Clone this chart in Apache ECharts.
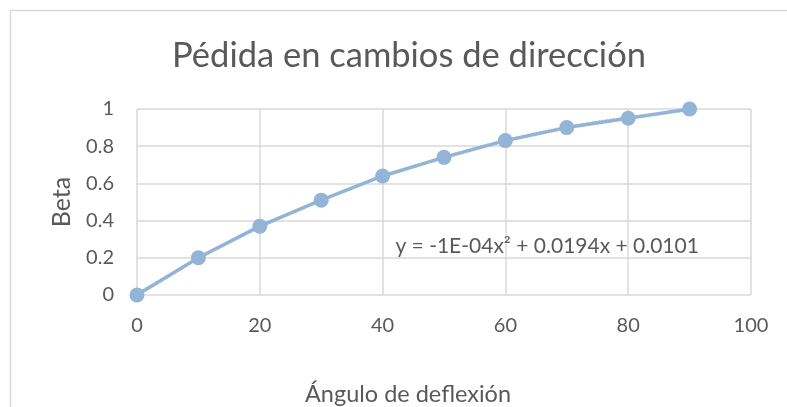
<!DOCTYPE html>
<html>
<head>
<meta charset="utf-8">
<script src="https://cdn.jsdelivr.net/npm/echarts@6/dist/echarts.min.js"></script>
<style>
  html, body { margin: 0; padding: 0; background: #ffffff; }
  #chart { width: 787px; height: 407px; }
</style>
</head>
<body>
<div id="chart"></div>
<script>
// Deflection angle (degrees) and the measured loss coefficient beta
const angles = [0, 10, 20, 30, 40, 50, 60, 70, 80, 90];
const beta = [0, 0.2, 0.37, 0.51, 0.64, 0.74, 0.83, 0.90, 0.95, 1.0];

// Second-order polynomial trendline [a2, a1, a0]; shown rounded in the equation label
const trendCoef = [-9.507e-5, 0.019441, 0.010097];
const trendLabel = 'y = -1E-04x² + 0.0194x + 0.0101';

const xTicks = [0, 20, 40, 60, 80, 100];
const yTicks = [0, 0.2, 0.4, 0.6, 0.8, 1];

const lineColor = '#93b4d6';
const textColor = '#595959';
const font = 'Lato';

// Trendline sampled over the data range
const trend = [];
for (let x = angles[0]; x <= angles[angles.length - 1]; x += 1) {
  trend.push([x, trendCoef[0] * x * x + trendCoef[1] * x + trendCoef[2]]);
}

const chart = echarts.init(document.getElementById('chart'), null, { renderer: 'canvas' });
chart.setOption({
  animation: false,
  backgroundColor: '#ffffff',
  title: [
    {
      text: 'Pédida en cambios de dirección',
      left: 404, top: 33, textAlign: 'center',
      textStyle: { fontFamily: font, fontWeight: 'normal', fontSize: 34.5, color: textColor }
    },
    {
      text: 'Ángulo de deflexión',
      left: 403, top: 377, textAlign: 'center',
      textStyle: { fontFamily: font, fontWeight: 'normal', fontSize: 23.5, color: textColor }
    }
  ],
  graphic: [
    {
      type: 'rect', silent: true, z: -1,
      shape: { x: 10.5, y: 10.5, width: 900, height: 500 },
      style: { fill: 'none', stroke: '#d9d9d9', lineWidth: 1.5 }
    }
  ],
  grid: { left: 137, right: 36, top: 109, bottom: 112 },
  xAxis: {
    type: 'value', min: xTicks[0], max: xTicks[xTicks.length - 1], interval: 20,
    axisLine: { show: false }, axisTick: { show: false },
    splitLine: { show: true, lineStyle: { color: '#d9d9d9', width: 1.5 } },
    axisLabel: { fontFamily: font, fontSize: 20, color: textColor, margin: 21 }
  },
  yAxis: {
    type: 'value', min: yTicks[0], max: yTicks[yTicks.length - 1], interval: 0.2,
    name: 'Beta', nameLocation: 'middle', nameGap: 63,
    nameTextStyle: { fontFamily: font, fontSize: 25, color: textColor },
    axisLine: { show: false }, axisTick: { show: false },
    splitLine: { show: true, lineStyle: { color: '#d9d9d9', width: 1.5 } },
    axisLabel: { fontFamily: font, fontSize: 20, color: textColor, margin: 23 }
  },
  series: [
    {
      name: 'Beta', type: 'line',
      data: angles.map((a, i) => [a, beta[i]]),
      symbol: 'circle', symbolSize: 15,
      itemStyle: { color: lineColor },
      lineStyle: { color: lineColor, width: 3.5 },
      z: 3
    },
    {
      name: 'Tendencia', type: 'line',
      data: trend, symbol: 'none',
      lineStyle: { color: lineColor, width: 1.5, type: 'dotted' },
      z: 2,
      markPoint: {
        symbol: 'rect', symbolSize: 1, itemStyle: { color: 'transparent' },
        label: {
          show: true, formatter: trendLabel, position: 'right', distance: 0,
          fontFamily: font, fontSize: 21, color: textColor
        },
        data: [{ coord: [42, 0.263] }]
      }
    }
  ]
});
</script>
</body>
</html>
